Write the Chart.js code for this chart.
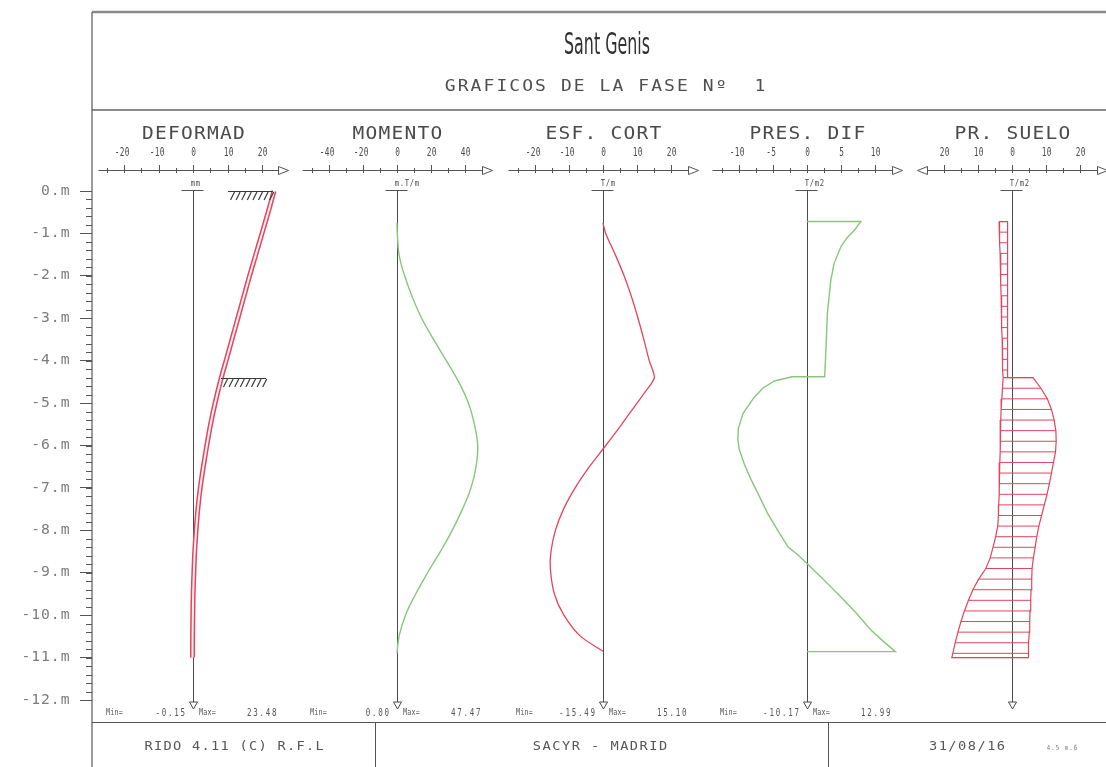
<!DOCTYPE html>
<html>
<head>
<meta charset="utf-8">
<title>Sant Genis - Graficos de la fase 1</title>
<script src="https://cdn.jsdelivr.net/npm/chart.js@4.4.1/dist/chart.umd.min.js"></script>
<style>
  html, body { margin: 0; padding: 0; background: #fff; }
  #wrap { width: 1106px; height: 767px; position: relative; }
  canvas { display: block; }
</style>
</head>
<body>
<div id="wrap"><canvas id="chart" width="1106" height="767"></canvas></div>
<script>
// ---- depth axis (m) ----
const depthTicks = [0, -1, -2, -3, -4, -5, -6, -7, -8, -9, -10, -11, -12];
const anchorDepth = [0, -4.4];

// ---- panel axis tick labels ----
const deformTicks = [-20, -10, 0, 10, 20];
const momentTicks = [-40, -20, 0, 20, 40];
const shearTicks  = [-20, -10, 0, 10, 20];
const presTicks   = [-10, -5, 0, 5, 10];
const soilTicks   = [-20, -10, 0, 10, 20];

const panelTitles = ['DEFORMAD', 'MOMENTO', 'ESF. CORT', 'PRES. DIF', 'PR. SUELO'];
const panelUnits  = ['mm', 'm.T/m', 'T/m', 'T/m2', 'T/m2'];

// ---- DEFORMAD (mm) ----
const deformDepth = [0, -0.5, -1, -1.5, -2, -2.5, -3, -3.5, -4, -4.4, -5, -5.5, -6, -6.5, -7, -7.5, -8, -8.5, -9, -9.5, -10, -10.5, -11];
const deformValue = [23.48, 21.8, 20.0, 18.2, 16.4, 14.7, 13.0, 11.3, 9.6, 8.2, 6.4, 5.1, 4.0, 3.0, 2.1, 1.4, 0.9, 0.5, 0.25, 0.05, -0.05, -0.12, -0.15];

// ---- MOMENTO (m.T/m) ----
const momentDepth = [-0.75, -1, -1.5, -2, -2.5, -3, -3.5, -4, -4.5, -5, -5.5, -6, -6.5, -7, -7.5, -8, -8.5, -9, -9.5, -10, -10.5, -10.9];
const momentValue = [0, 0.2, 1.2, 4.5, 9.0, 14.5, 21.5, 29.0, 36.3, 42.0, 45.5, 47.47, 46.5, 43.5, 38.5, 32.5, 25.5, 18.0, 11.0, 5.0, 1.2, 0];

// ---- ESF. CORT (T/m) ----
const shearDepth = [-0.75, -1, -1.5, -2, -2.5, -3, -3.5, -4, -4.4, -4.75, -5, -5.5, -6, -6.5, -7, -7.5, -8, -8.5, -8.9, -9.5, -10, -10.5, -10.85];
const shearValue = [0, 0.8, 3.6, 6.2, 8.4, 10.3, 12.0, 13.6, 15.10, 12.3, 10.0, 5.5, 0.8, -4.0, -8.2, -11.6, -14.0, -15.3, -15.49, -14.3, -11.5, -6.6, 0];

// ---- PRES. DIF (T/m2) ----
const presDepth = [-0.72, -0.72, -0.92, -1.1, -1.31, -1.7, -2.1, -2.88, -3.67, -4.38, -4.38, -4.38, -4.48, -4.65, -4.85, -5.24, -5.6, -5.85, -6.1, -6.45, -6.81, -7.2, -7.6, -8.0, -8.39, -8.6, -8.78, -9.17, -9.57, -9.96, -10.35, -10.6, -10.86, -10.86];
const presValue = [0, 7.9, 7.0, 5.9, 5.0, 4.0, 3.5, 3.0, 2.8, 2.6, 0, -2.2, -4.8, -6.5, -7.7, -9.4, -10.1, -10.17, -9.95, -9.2, -8.2, -7.0, -5.8, -4.3, -2.8, -1.2, 0, 2.5, 5.0, 7.3, 9.4, 11.1, 12.99, 0];

// ---- PR. SUELO (T/m2): left / right face pressures ----
const soilDepth = [-0.72, -0.97, -1.22, -1.47, -1.72, -1.97, -2.22, -2.47, -2.72, -2.97, -3.22, -3.47, -3.72, -3.97, -4.22, -4.4,
                   -4.4, -4.65, -4.9, -5.15, -5.4, -5.65, -5.9, -6.15, -6.4, -6.65, -6.9, -7.15, -7.4, -7.65, -7.9, -8.15,
                   -8.4, -8.65, -8.9, -9.15, -9.4, -9.65, -9.9, -10.15, -10.4, -10.65, -10.9, -11.0];
const soilLeft  = [-3.8, -3.7, -3.6, -3.5, -3.4, -3.3, -3.25, -3.2, -3.1, -3.05, -3.0, -2.9, -2.85, -2.8, -2.7, -2.6,
                   -2.6, -2.8, -3.0, -3.2, -3.3, -3.4, -3.5, -3.5, -3.6, -3.7, -3.8, -3.8, -3.9, -4.0, -4.2, -4.8,
                   -5.6, -6.4, -7.7, -9.8, -11.5, -12.8, -14.0, -15.0, -15.9, -16.7, -17.4, -17.7];
const soilRight = [-1.3, -1.3, -1.3, -1.3, -1.3, -1.3, -1.3, -1.3, -1.3, -1.3, -1.3, -1.3, -1.3, -1.3, -1.3, -1.3,
                   6.2, 8.5, 10.4, 11.6, 12.4, 12.9, 13.0, 12.8, 12.2, 11.6, 11.0, 10.3, 9.5, 8.7, 7.9, 7.3,
                   6.8, 6.3, 5.9, 5.8, 5.6, 5.5, 5.3, 5.2, 5.1, 4.9, 4.8, 4.8];

// ---- sheet layout (pixels) ----
const FRAME = { left: 92, top: 12, titleLine: 110, plotBottom: 722, right: 1106, bottom: 767 };
const AXIS_Y = 170;
const panelLayout = [
  { id: 'xDef',   zero: 193,  ppu: 3.45, ticks: deformTicks },
  { id: 'xMom',   zero: 397,  ppu: 1.70, ticks: momentTicks },
  { id: 'xCort',  zero: 603,  ppu: 3.40, ticks: shearTicks },
  { id: 'xPres',  zero: 807,  ppu: 6.80, ticks: presTicks },
  { id: 'xSuelo', zero: 1012, ppu: 3.40, ticks: soilTicks, both: true }
];
const RED = '#e2455d';
const GREEN = '#88c67c';
const INK = '#474747';
const MONO = '"DejaVu Sans Mono", "Liberation Mono", monospace';

const pts = (xs, ys) => xs.map((v, i) => ({ x: v, y: ys[i] }));

// closed outline of the soil pressure diagram: left face down, right face up
const soilOutline = pts(soilLeft, soilDepth).concat(pts(soilRight, soilDepth).reverse(), [{ x: soilLeft[0], y: soilDepth[0] }]);
// hatch: one horizontal stroke per level
const soilHatch = [];
soilDepth.forEach((d, i) => {
  soilHatch.push({ x: soilLeft[i], y: d }, { x: soilRight[i], y: d }, { x: soilRight[i], y: null });
});

// draws text as evenly spaced plotter characters
function chars(ctx, str, x, y, o) {
  const adv = o.adv, sx = o.sx || 1;
  const w = str.length * adv;
  const x0 = o.align === 'left' ? x : o.align === 'right' ? x - w : x - w / 2;
  ctx.save();
  ctx.font = (o.size) + 'px ' + MONO;
  ctx.fillStyle = o.color || INK;
  ctx.textAlign = 'center';
  ctx.textBaseline = 'middle';
  for (let i = 0; i < str.length; i++) {
    ctx.save();
    ctx.translate(x0 + (i + 0.5) * adv, y);
    ctx.scale(sx, 1);
    ctx.fillText(str[i], 0, 0);
    ctx.restore();
  }
  ctx.restore();
}

function line(ctx, x1, y1, x2, y2, color, w) {
  ctx.beginPath();
  ctx.strokeStyle = color;
  ctx.lineWidth = w;
  ctx.moveTo(x1, y1);
  ctx.lineTo(x2, y2);
  ctx.stroke();
}

function arrowHead(ctx, tipX, y, dir) {
  ctx.beginPath();
  ctx.strokeStyle = '#555';
  ctx.lineWidth = 1;
  ctx.fillStyle = '#fff';
  ctx.moveTo(tipX, y);
  ctx.lineTo(tipX - dir * 10, y - 4);
  ctx.lineTo(tipX - dir * 10, y + 4);
  ctx.closePath();
  ctx.fill();
  ctx.stroke();
}

function anchorMark(ctx, x, y) {
  ctx.save();
  ctx.strokeStyle = '#3a3a3a';
  ctx.lineWidth = 1.2;
  ctx.beginPath();
  ctx.moveTo(x, y + 0.5);
  ctx.lineTo(x + 45, y + 0.5);
  for (let i = 0; i < 8; i++) {
    const xi = x + 4 + i * 5.6;
    ctx.moveTo(xi + 2.5, y + 1);
    ctx.lineTo(xi - 1.5, y + 9);
  }
  ctx.stroke();
  ctx.restore();
}

const sheetPlugin = {
  id: 'sheet',
  beforeDraw(chart) {
    const ctx = chart.ctx;
    ctx.save();
    ctx.fillStyle = '#fff';
    ctx.fillRect(0, 0, chart.width, chart.height);
    ctx.restore();
  },
  beforeDatasetsDraw(chart) {
    const ctx = chart.ctx;
    const ys = chart.scales.y;
    ctx.save();

    // frame
    line(ctx, FRAME.left, FRAME.top, FRAME.right, FRAME.top, '#8a8a8a', 2.5);
    line(ctx, FRAME.left, FRAME.titleLine, FRAME.right, FRAME.titleLine, '#8a8a8a', 2);
    line(ctx, FRAME.left, FRAME.top, FRAME.left, FRAME.bottom, '#555', 1.2);
    line(ctx, FRAME.left, FRAME.plotBottom + 0.5, FRAME.right, FRAME.plotBottom + 0.5, '#555', 1);
    line(ctx, 375.5, FRAME.plotBottom, 375.5, FRAME.bottom, '#555', 1);
    line(ctx, 828.5, FRAME.plotBottom, 828.5, FRAME.bottom, '#555', 1);

    // title block
    ctx.save();
    ctx.font = '30px "DejaVu Sans"';
    ctx.fillStyle = '#303030';
    ctx.textAlign = 'center';
    ctx.textBaseline = 'middle';
    const tw = ctx.measureText('Sant Genis').width;
    ctx.translate(607, 46);
    ctx.scale(86 / tw, 1);
    ctx.fillText('Sant Genis', 0, 0);
    ctx.restore();
    chars(ctx, 'GRAFICOS DE LA FASE N\u00ba  1', 605, 87, { size: 15, adv: 12.9, sx: 1.2, color: '#4f4f4f' });

    // depth labels and minor ticks
    depthTicks.forEach(v => {
      chars(ctx, v + '.m', 70, ys.getPixelForValue(v), { size: 14, adv: 9.8, sx: 1.05, align: 'right', color: '#7c7c7c' });
    });
    for (let d = 0; d >= -12.001; d -= 0.2) {
      const yy = Math.round(ys.getPixelForValue(d)) + 0.5;
      line(ctx, FRAME.left - 6, yy, FRAME.left, yy, '#555', 1);
    }

    // panels
    const yTop = ys.getPixelForValue(0);
    const yBot = ys.getPixelForValue(-12) + 2;
    panelLayout.forEach((p, k) => {
      const s = chart.scales[p.id];
      const z = Math.round(s.getPixelForValue(0)) + 0.5;

      // title, value axis, ticks, labels
      chars(ctx, panelTitles[k], z, 135, { size: 17, adv: 13, sx: 1.15, color: '#4a4a4a' });
      const left = p.both ? z - 85 : z - 95;
      line(ctx, left, AXIS_Y + 0.5, z + 85, AXIS_Y + 0.5, '#555', 1);
      arrowHead(ctx, z + 95, AXIS_Y + 0.5, 1);
      if (p.both) arrowHead(ctx, z - 95, AXIS_Y + 0.5, -1);
      const step = p.ticks[1] - p.ticks[0];
      p.ticks.forEach((v, i) => {
        const tx = Math.round(s.getPixelForValue(v)) + 0.5;
        line(ctx, tx, AXIS_Y - 5, tx, AXIS_Y + 3, '#555', 1);
        const shown = p.both ? Math.abs(v) : v;
        const digits = String(Math.abs(shown));
        chars(ctx, digits, tx, 153, { size: 13, adv: 5, sx: 0.6, color: '#4a4a4a' });
        if (shown < 0) chars(ctx, '-', tx - digits.length * 2.5 - 2.5, 153, { size: 13, adv: 4, sx: 0.6, color: '#4a4a4a' });
        if (i < p.ticks.length - 1) {
          const mx = Math.round(s.getPixelForValue(v + step / 2)) + 0.5;
          line(ctx, mx, AXIS_Y - 2, mx, AXIS_Y + 3, '#555', 1);
        }
      });
      if (!p.both) {
        const mx = Math.round(s.getPixelForValue(p.ticks[0] - step / 2)) + 0.5;
        line(ctx, mx, AXIS_Y - 2, mx, AXIS_Y + 3, '#555', 1);
      }

      // unit, zero line, foot marker
      chars(ctx, panelUnits[k], z - 3, 184, { size: 9, adv: 5, sx: 0.8, align: 'left', color: '#4a4a4a' });
      line(ctx, z - 12, Math.round(yTop) - 0.5, z + 10, Math.round(yTop) - 0.5, '#555', 1);
      line(ctx, z, yTop - 1, z, yBot, '#4a4a4a', 1);
      ctx.beginPath();
      ctx.strokeStyle = '#4a4a4a';
      ctx.lineWidth = 1;
      ctx.moveTo(z - 4, yBot);
      ctx.lineTo(z + 4, yBot);
      ctx.lineTo(z, yBot + 7);
      ctx.closePath();
      ctx.stroke();
    });

    // min / max summaries
    [deformValue, momentValue, shearValue, presValue].forEach((vals, k) => {
      const z = panelLayout[k].zero;
      const mn = Math.min(...vals).toFixed(2);
      const mx = Math.max(...vals).toFixed(2);
      chars(ctx, 'Min=', z - 87, 713, { size: 9, adv: 4.2, sx: 0.75, align: 'left', color: '#555' });
      chars(ctx, mn, z - 7, 713, { size: 10, adv: 6.3, sx: 0.75, align: 'right', color: '#555' });
      chars(ctx, 'Max=', z + 6, 713, { size: 9, adv: 4.2, sx: 0.75, align: 'left', color: '#555' });
      chars(ctx, mx, z + 53, 713, { size: 10, adv: 6.3, sx: 0.75, align: 'left', color: '#555' });
    });

    // footer
    chars(ctx, 'RIDO 4.11 (C) R.F.L', 234, 747, { size: 13, adv: 9.5, sx: 1.05, color: '#565656' });
    chars(ctx, 'SACYR - MADRID', 600, 747, { size: 13, adv: 9.7, sx: 1.05, color: '#565656' });
    chars(ctx, '31/08/16', 967, 747, { size: 13, adv: 9.7, sx: 1.05, color: '#565656' });
    chars(ctx, '4.5 m.6', 1062, 748, { size: 7, adv: 4.5, sx: 0.8, color: '#777' });

    ctx.restore();
  },
  afterDatasetsDraw(chart) {
    const ctx = chart.ctx;
    const ys = chart.scales.y;
    const s = chart.scales.xDef;
    const zero = s.getPixelForValue(0);
    anchorDepth.forEach(d => {
      const i = deformDepth.indexOf(d);
      const wallX = s.getPixelForValue(deformValue[i]);
      const x = Math.min(wallX, zero + 80 - 45);
      anchorMark(ctx, Math.round(x), Math.round(ys.getPixelForValue(d)));
    });
  }
};

const common = { yAxisID: 'y', pointRadius: 0, fill: false, clip: false, spanGaps: false };

const xScales = {};
panelLayout.forEach(p => {
  xScales[p.id] = {
    type: 'linear',
    display: false,
    min: (FRAME.left - p.zero) / p.ppu,
    max: (FRAME.right - p.zero) / p.ppu
  };
});

new Chart(document.getElementById('chart'), {
  type: 'line',
  data: {
    datasets: [
      // wall drawn as a hollow band: white core (order 0) over a red stroke (order 1)
      Object.assign({ xAxisID: 'xDef', data: pts(deformValue, deformDepth), borderColor: 'rgba(255,255,255,0.92)', borderWidth: 2, tension: 0.3, order: 0 }, common),
      Object.assign({ xAxisID: 'xDef', data: pts(deformValue, deformDepth), borderColor: RED, borderWidth: 5, tension: 0.3, order: 1 }, common),
      Object.assign({ xAxisID: 'xMom', data: pts(momentValue, momentDepth), borderColor: GREEN, borderWidth: 1.4, tension: 0.4, order: 2 }, common),
      Object.assign({ xAxisID: 'xCort', data: pts(shearValue, shearDepth), borderColor: RED, borderWidth: 1.3, tension: 0.25, order: 2 }, common),
      Object.assign({ xAxisID: 'xPres', data: pts(presValue, presDepth), borderColor: GREEN, borderWidth: 1.4, tension: 0, order: 2 }, common),
      Object.assign({ xAxisID: 'xSuelo', data: soilOutline, borderColor: RED, borderWidth: 1.2, tension: 0, order: 2 }, common),
      Object.assign({ xAxisID: 'xSuelo', data: soilHatch, borderColor: RED, borderWidth: 1, tension: 0, order: 2 }, common)
    ]
  },
  options: {
    responsive: false,
    animation: false,
    devicePixelRatio: 1,
    events: [],
    layout: { padding: { top: 191, bottom: 67, left: 0, right: 0 } },
    plugins: { legend: { display: false }, tooltip: { enabled: false } },
    scales: Object.assign({
      y: {
        type: 'linear',
        position: 'left',
        min: -12,
        max: 0,
        afterFit: scale => { scale.width = FRAME.left; },
        ticks: { display: false, stepSize: 1 },
        grid: { drawOnChartArea: false, drawTicks: true, tickLength: 12, color: '#555', lineWidth: 1 },
        border: { display: false }
      }
    }, xScales)
  },
  plugins: [sheetPlugin]
});
</script>
</body>
</html>
